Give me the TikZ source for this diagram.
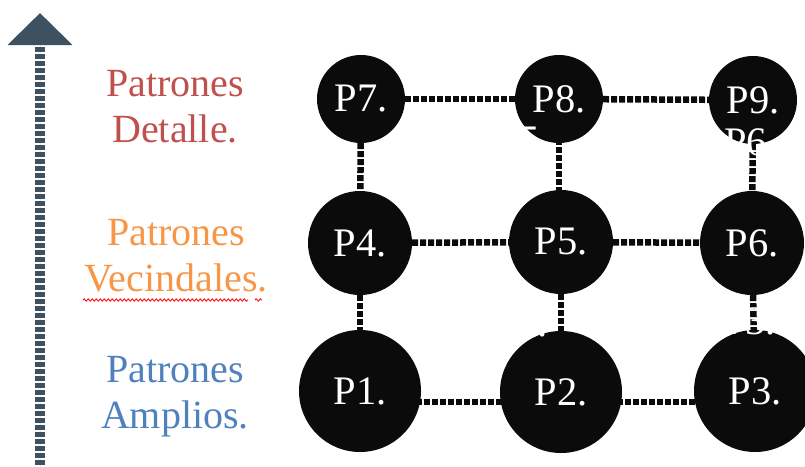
\documentclass[tikz,border=0pt]{standalone}
\usepackage{fontspec}
\setmainfont{Liberation Serif}
\usetikzlibrary{arrows.meta,positioning,backgrounds,decorations.pathmorphing}
\definecolor{axisslate}{HTML}{3D5161}
\definecolor{detallered}{HTML}{C0504D}
\definecolor{vecinalorange}{HTML}{F79646}
\definecolor{amplioblue}{HTML}{4F81BD}
\definecolor{spotblack}{HTML}{0B0B0B}
\tikzset{
    pnode/.style={circle, fill=spotblack, text=white, inner sep=0pt, minimum size=#1, font=\fontsize{40.5}{46}\selectfont},
    ghost/.style={text=white, inner sep=0pt, anchor=base west, font=\fontsize{40.5}{46}\selectfont},
    tier/.style={align=center, inner sep=0pt, font=\fontsize{40}{46}\selectfont},
    link/.style={line width=6.5pt, draw=spotblack, dash pattern=on 6pt off 2pt},
    scalearrow/.style={-{Triangle[width=63pt,length=32pt]}, line width=10pt, draw=axisslate, fill=axisslate, dash pattern=on 5pt off 2pt},
    squiggle/.style={draw=red, line width=0.8pt, decorate, decoration={snake, amplitude=1.2pt, segment length=4pt}}
}
\begin{document}
\begin{tikzpicture}[x=1pt,y=-1pt]
    \useasboundingbox (0,0) rectangle (805,466);

    % scale arrow
    \coordinate (axisbot) at (40,472);
    \coordinate (axistop) at (40,13);
    \draw[scalearrow] (axisbot) -- (axistop);

    % level labels
    \node[tier, text=detallered] (detalle) at (175,107) {Patrones\\Detalle.};
    \node[tier, text=vecinalorange] (vecinal) at (176,256) {Patrones\\Vecindales.};
    \node[tier, text=amplioblue] (amplio) at (175,397) {Patrones\\Amplios.};
    \draw[squiggle] (83,300) -- (248,300);
    \draw[squiggle] (255,300) -- (262,300);

    % pattern grid
    \node[pnode=88pt] (P7) at (361,99) {P7.};
    \node[pnode=88pt] (P8) at (559,99) {P8.};
    \node[pnode=88pt] (P9) at (753,100) {P9.};
    \node[pnode=104pt] (P4) at (360,243) {P4.};
    \node[pnode=104pt] (P5) at (561,242) {P5.};
    \node[pnode=104pt] (P6) at (752,243) {P6.};
    \node[pnode=122pt] (P1) at (360,391) {P1.};
    \node[pnode=122pt] (P2) at (561,392) {P2.};
    \node[pnode=122pt] (P3) at (755,391) {P3.};

    \begin{scope}[on background layer]
        \draw[link] (P7) -- (P8);
        \draw[link] (P8) -- (P9);
        \draw[link] (P4) -- (P5);
        \draw[link] (P5) -- (P6);
        \draw[link] ([yshift=-11pt]P1.center) -- ([yshift=-10pt]P2.center);
        \draw[link] ([yshift=-10pt]P2.center) -- ([yshift=-11pt]P3.center);
        \draw[link] (P7) -- (P4);
        \draw[link] (P4) -- (P1);
        \draw[link] (P8.center) -- (P5.center -| P8.center);
        \draw[link] (P5) -- (P2);
        \draw[link] (P9) -- (P6);
        \draw[link] (P6) -- (P3);
    \end{scope}

    % stray white labels
    \node[ghost] (g5) at (497,153) {P5.};
    \node[ghost] (g6) at (724,155) {P6.};
    \node[ghost] (g2) at (495,336) {P2.};
    \node[ghost] (g3) at (723,334) {P3.};
\end{tikzpicture}
\end{document}
